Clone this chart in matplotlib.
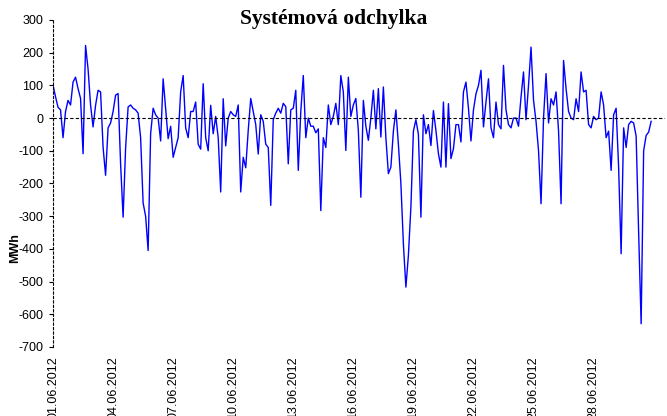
import numpy as np
import pandas as pd
import matplotlib
matplotlib.use('Agg')
import matplotlib.pyplot as plt
import matplotlib.dates as mdates

plt.rcParams['axes.unicode_minus'] = False

TITLE = 'Systémová odchylka'
Y_LABEL = 'MWh'
START = '2012-06-01'
STEP = '3h'

# systemova odchylka [MWh], 3-hodinove kroky od 01.06.2012
values_1 = [100, 65, 33, 25, -60, 20, 54, 40, 110, 125, 90, 60, -109, 222, 150, 40,
            -27, 39, 85, 80, -89, -175, -30, -15, 20, 70, 75, -140, -303, -92, 34, 40,
            30, 25, 15, -60, -260, -300, -405, -48, 30, 10, 0]
values_2 = [-70, 120, 30, -63, -25, -120, -90, -60, 80, 130, -30, -60, 20, 20, 49, -80,
            -95, 105, -60, -100, 39, -48, 5, -60, -226, 59, -85, 0, 20, 10, 5, 40,
            -226, -120, -152, -38, 60, 20, -20, -110]
values_3 = [10, -10, -80, -90, -267, -5, 15, 30, 15, 45, 35, -140, 25, 30, 85, -160,
            20, 130, -60, 0, -25, -25, -45, -33, -283, -60, -90, 40, -20, 5, 45, -20,
            130, 80, -99, 125, 5, 40, 60, -38]
values_4 = [-242, 54, -25, -68, 0, 85, -33, 90, -58, 95, -60, -170, -150, -40, 25, -80,
            -200, -385, -517, -420, -272, -40, -5, -50, -303, 10, -48, -20, -84, 23, -38, -109,
            -150, 49, -150, 44, -124, -94, -20, -20]
values_5 = [-73, 80, 110, 30, -70, 25, 74, 100, 146, -27, 49, 120, -30, -60, 49, -20,
            -33, 161, 25, -20, -30, 0, 0, -25, 64, 141, -5, 100, 217, 54, -10, -100,
            -262, 0, 136, -15, 59, 40, 80, -40]
values_6 = [-262, 176, 90, 20, 0, -5, 59, 20, 141, 80, 85, -20, -30, 5, -5, 0,
            80, 40, -60, -40, -160, 10, 30, -150, -415, -30, -90, -20, -10, -15, -55, -350,
            -629, -100, -53, -43, -10]

values = values_1 + values_2 + values_3 + values_4 + values_5 + values_6
times = pd.date_range(START, periods=len(values), freq=STEP)

y_ticks = list(range(-700, 301, 100))
x_ticks = pd.date_range('2012-06-01', '2012-06-28', freq='3D')

fig = plt.figure(figsize=(6.67, 4.16), dpi=100)
ax = fig.add_axes([0.0795, 0.166, 0.918, 0.786])

ax.plot(times, values, color='#0000FF', lw=1.0)
ax.axhline(0, color='black', lw=0.8, ls=(0, (3, 2)))

ax.set_ylim(-700, 300)
ax.set_xlim(pd.Timestamp('2012-06-01'), pd.Timestamp('2012-07-01 14:00'))
ax.set_yticks(y_ticks)
ax.set_xticks(x_ticks)
ax.xaxis.set_major_formatter(mdates.DateFormatter('%d.%m.%Y'))

for s in ['top', 'right', 'bottom']:
    ax.spines[s].set_visible(False)
ax.spines['left'].set_linestyle((0, (2, 2)))
ax.spines['left'].set_linewidth(0.8)

ax.tick_params(axis='y', labelsize=9, length=3, width=0.8, pad=4)
ax.tick_params(axis='x', labelsize=9, length=0, pad=6.5, labelrotation=90)
for lab in ax.get_xticklabels() + ax.get_yticklabels():
    lab.set_family(['Liberation Sans', 'DejaVu Sans'])

fig.text(0.5, 0.955, TITLE, ha='center', va='center', fontsize=15.5,
         fontweight='bold', family=['Liberation Serif', 'DejaVu Serif'])
fig.text(0.022, 1 - 248 / 416, Y_LABEL, rotation=90, ha='center', va='center',
         fontsize=9, fontweight='bold', family=['Liberation Sans', 'DejaVu Sans'])

fig.savefig('out.png', dpi=100)
